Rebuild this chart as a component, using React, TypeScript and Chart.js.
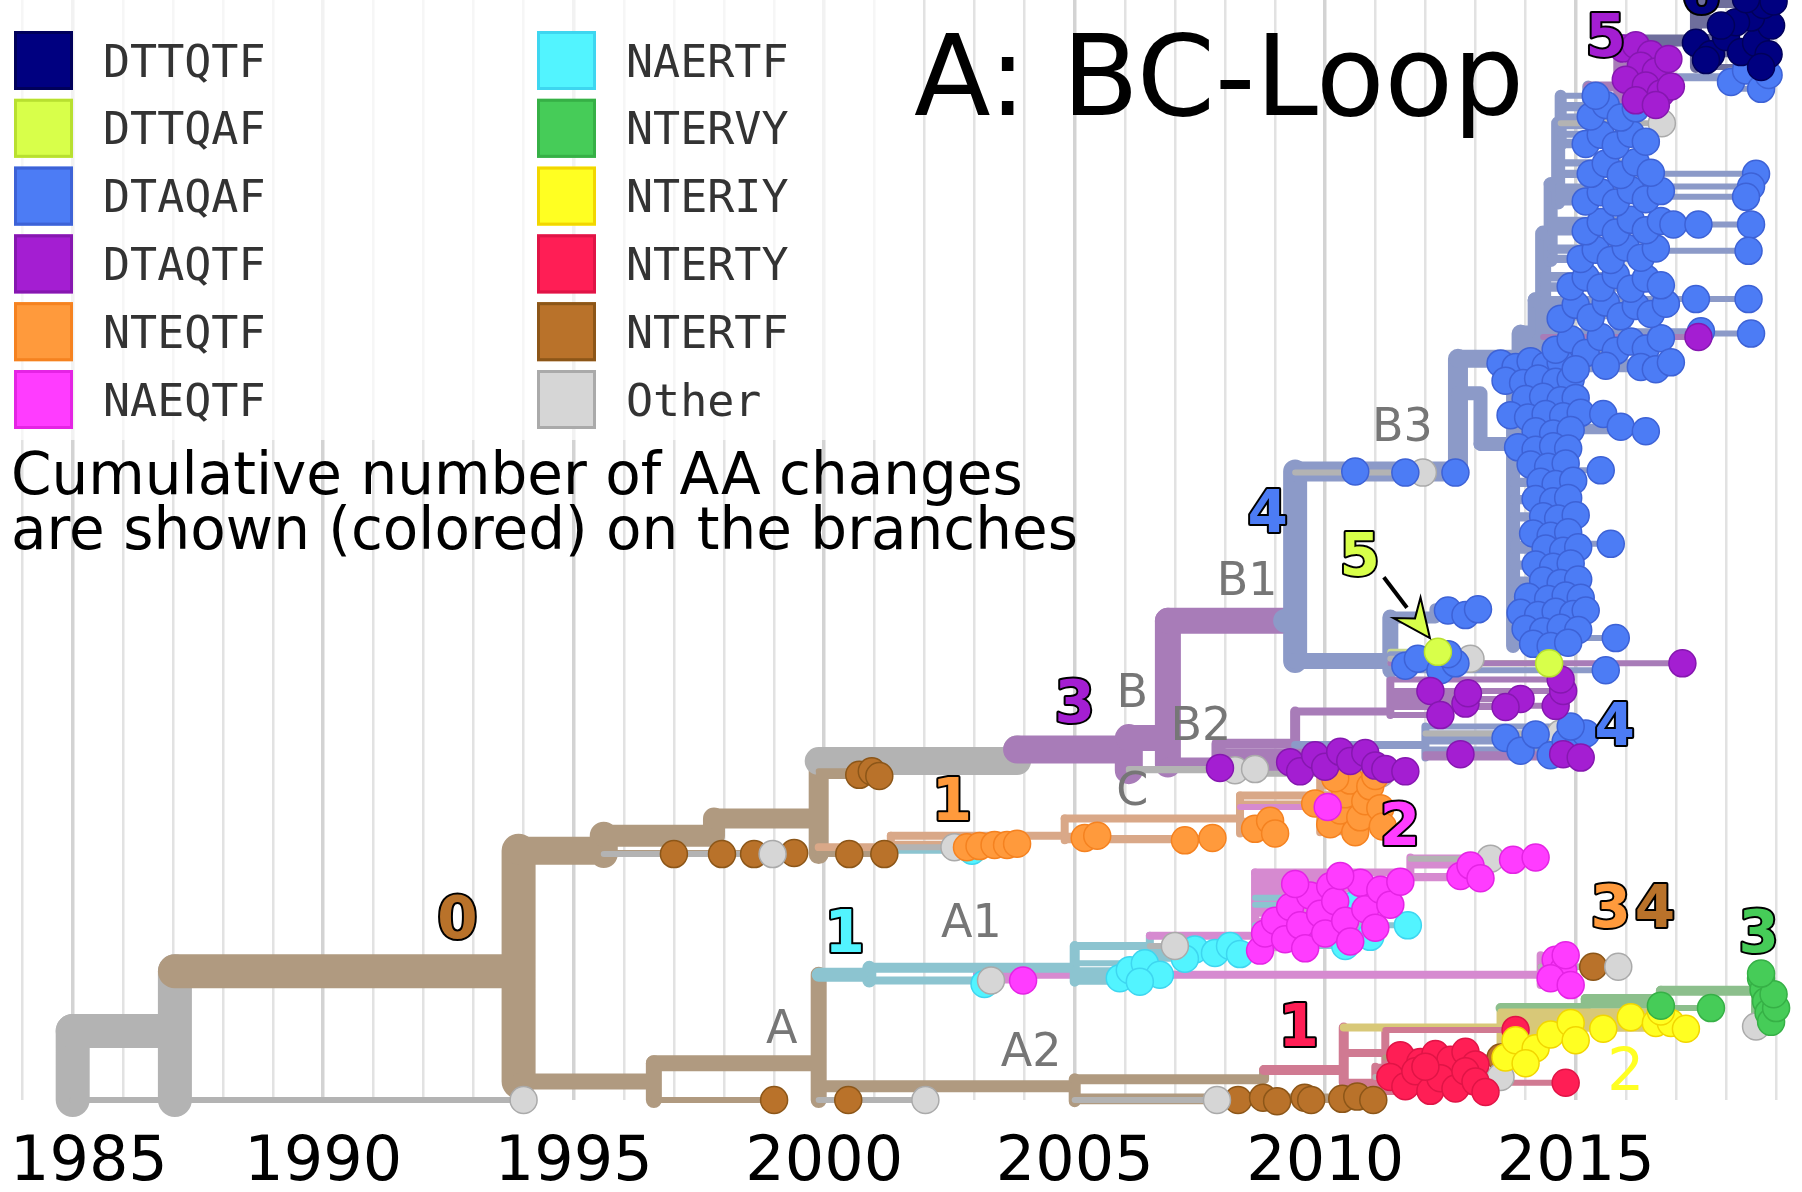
import React, { useEffect, useRef } from "react";
import { Chart, registerables } from "chart.js";
Chart.register(...registerables);

// ---------- categories / legend ----------
const legendLeft = ["DTTQTF", "DTTQAF", "DTAQAF", "DTAQTF", "NTEQTF", "NAEQTF"];
const legendRight = ["NAERTF", "NTERVY", "NTERIY", "NTERTY", "NTERTF", "Other"];
const yearLabels = [1985, 1990, 1995, 2000, 2005, 2010, 2015];

const pointFill: Record<string, string> = {
  DTTQTF: "#000080", DTTQAF: "#d8ff4a", DTAQAF: "#4c7cf5", DTAQTF: "#a41ed2",
  NTEQTF: "#ff9a3c", NAEQTF: "#ff3cff", NAERTF: "#52f4ff", NTERVY: "#46cc58",
  NTERIY: "#ffff22", NTERTY: "#ff1e55", NTERTF: "#b9722a", Other: "#d6d6d6",
};
const pointEdge: Record<string, string> = {
  DTTQTF: "#00005a", DTTQAF: "#b8e030", DTAQAF: "#3d62d6", DTAQTF: "#8617b0",
  NTEQTF: "#f58220", NAEQTF: "#e424e4", NAERTF: "#3ed6f0", NTERVY: "#36b046",
  NTERIY: "#f2d600", NTERTY: "#e01446", NTERTF: "#8c5618", Other: "#aaaaaa",
};
const branchTone: Record<string, string> = {
  DTTQTF: "#6e6e9c", DTTQAF: "#c8d890", DTAQAF: "#8c9ac8", DTAQTF: "#a87cb8",
  NTEQTF: "#d9a888", NAEQTF: "#d68ad0", NAERTF: "#8cc4d0", NTERVY: "#8cbf8c",
  NTERIY: "#d8c878", NTERTY: "#d07a92", NTERTF: "#b09a80", Other: "#b3b3b3",
};
const pointLayer = ["NAERTF", "NTERTF", "Other", "NTEQTF", "NAEQTF", "NTERTY", "NTERIY", "NTERVY", "DTAQAF", "DTAQTF", "DTTQAF", "DTTQTF"];

// ---------- tree: [id, parent, year, row, category, width] ----------
const treeNodes: [string, string | null, number, number, string, number][] = [
  ["R", null, 1985.0, 3.0, "Other", 34],
  ["N1987", "R", 1987.04, 6.0, "Other", 34],
  ["N1994", "N1987", 1993.9, 11.2, "NTERTF", 34],
  ["N1996", "N1994", 1996.6, 1.6, "NTERTF", 16],
  ["NA", "N1996", 1999.89, 3.2, "NTERTF", 16],
  ["NA2", "NA", 2005.0, 1.2, "NTERTF", 12],
  ["NA2b", "NA2", 2008.78, 1.8, "NTERTF", 10],
  ["NR0", "NA2b", 2010.37, 2.6, "NTERTY", 10],
  ["NR1", "NR0", 2011.2, 4.1, "NTERTY", 8],
  ["NR2", "NR0", 2011.0, 1.5, "NTERTY", 8],
  ["NY0", "NR0", 2013.5, 6.3, "NTERIY", 8],
  ["NG0", "NY0", 2015.2, 8.0, "NTERVY", 10],
  ["NG1", "NG0", 2016.7, 8.8, "NTERVY", 10],
  ["NG2", "NG1", 2018.6, 9.5, "NTERVY", 10],
  ["NA1", "NA", 2000.9, 10.9, "NAERTF", 14],
  ["NA1a", "NA1", 2003.05, 10.4, "NAERTF", 8],
  ["NMag", "NA1a", 2014.3, 10.9, "NAEQTF", 8],
  ["NA1b", "NA1", 2005.0, 11.5, "NAERTF", 10],
  ["NA1c", "NA1b", 2006.5, 13.4, "NAERTF", 8],
  ["NMc", "NA1c", 2008.6, 14.3, "NAEQTF", 8],
  ["NMd", "NMc", 2011.7, 19.8, "NAEQTF", 8],
  ["NU", "N1994", 1995.6, 21.7, "NTERTF", 28],
  ["NU2", "NU", 1997.8, 23.0, "NTERTF", 22],
  ["NU3", "NU2", 1999.89, 24.5, "NTERTF", 20],
  ["NO0", "NU3", 2001.33, 22.0, "NTEQTF", 8],
  ["NO1", "NO0", 2004.8, 23.0, "NTEQTF", 8],
  ["NO2", "NO1", 2008.3, 24.5, "NTEQTF", 8],
  ["NO3", "NO2", 2009.9, 26.5, "NTEQTF", 8],
  ["NGr", "NU3", 2003.85, 29.5, "Other", 28],
  ["NB0", "NGr", 2006.08, 30.5, "DTAQTF", 28],
  ["NB", "NB0", 2006.86, 31.5, "DTAQTF", 26],
  ["NB2", "NB", 2007.87, 29.2, "DTAQTF", 14],
  ["NB2a", "NB2", 2009.4, 31.0, "DTAQTF", 10],
  ["NB2b", "NB2a", 2012.0, 30.9, "DTAQAF", 8],
  ["NB2c", "NB2a", 2011.3, 33.8, "DTAQTF", 8],
  ["NB1", "NB", 2009.2, 41.7, "DTAQTF", 26],
  ["NB1x", "NB1", 2009.4, 41.7, "DTAQAF", 24],
  ["N5", "NB1x", 2011.3, 38.2, "DTAQAF", 16],
  ["N5b", "N5", 2012.2, 42.0, "DTAQAF", 12],
  ["NB3", "NB1x", 2012.65, 54.7, "DTAQAF", 20],
  ["NLa", "NB3", 2013.1, 61.5, "DTAQAF", 14],
  ["NLc", "NLa", 2013.75, 57.1, "DTAQAF", 14],
  ["S1", "NB3", 2013.9, 64.5, "DTAQAF", 18],
  ["S2", "S1", 2014.2, 66.7, "DTAQAF", 16],
  ["S3", "S2", 2014.35, 69.6, "DTAQAF", 16],
  ["S4", "S3", 2014.5, 75.4, "DTAQAF", 14],
  ["S5", "S4", 2014.65, 79.7, "DTAQAF", 14],
  ["S6", "S5", 2014.7, 85.0, "DTAQAF", 12],
  ["S7", "S6", 2015.25, 85.0, "DTAQAF", 12],
  ["P0", "S7", 2015.85, 88.2, "DTAQTF", 10],
  ["NV", "P0", 2017.4, 92.2, "DTTQTF", 12],
  ["NVb", "P0", 2018.07, 89.0, "DTAQAF", 8],
];

// ---------- tips: [parent, category, [year, row][]] ----------
const tipGroups: [string, string, [number, number][]][] = [
  ["R", "Other", [[1994.0, 0]]],
  ["N1987", "none", [[1987.04, 0]]],
  ["N1996", "NTERTF", [[1999.0, 0]]],
  ["NA", "NTERTF", [[2000.48, 0]]],
  ["NA", "Other", [[2002.02, 0]]],
  ["NA2", "Other", [[2007.84, 0]]],
  ["NA2", "NTERTF", [[2008.26, 0], [2008.76, 0.2], [2009.04, -0.1], [2009.59, 0.2], [2009.72, 0], [2010.34, 0.1], [2010.64, 0.3], [2010.96, 0]]],
  ["NR1", "NTERTY", [[2011.5, 3.9], [2011.9, 3.3], [2012.2, 4.0], [2012.5, 3.5], [2012.8, 4.2], [2013.0, 3.1], [2013.8, 6.1]]],
  ["NR1", "NTERTF", [[2013.5, 3.7]]],
  ["NR2", "NTERTY", [[2011.3, 2.0], [2011.6, 1.2], [2011.8, 2.5], [2012.1, 0.8], [2012.3, 1.9], [2012.6, 1.0], [2012.8, 2.5], [2013.0, 1.6], [2013.2, 0.7], [2012.0, 2.9], [2014.8, 1.5]]],
  ["NR2", "Other", [[2013.5, 2.0]]],
  ["NY0", "NTERIY", [[2013.6, 3.7], [2013.8, 5.2], [2014.2, 4.5], [2014.5, 5.7], [2014.9, 6.7], [2015.0, 5.2], [2014.0, 3.2], [2015.55, 6.2], [2016.1, 7.2], [2016.6, 6.7], [2016.9, 6.7], [2017.2, 6.2], [2016.7, 7.7]]],
  ["NG0", "NTERVY", [[2016.7, 8.2]]],
  ["NG1", "NTERVY", [[2017.7, 8.0]]],
  ["NG2", "NTERVY", [[2018.7, 10.6], [2018.75, 9.6], [2018.8, 8.6], [2018.85, 7.6], [2018.9, 6.8], [2019.0, 8.0], [2018.95, 9.2], [2018.7, 11.0]]],
  ["NG2", "Other", [[2018.6, 6.4]]],
  ["NA1a", "NAERTF", [[2003.2, 10.1]]],
  ["NA1a", "Other", [[2003.33, 10.4]]],
  ["NA1a", "NAEQTF", [[2003.97, 10.4]]],
  ["NMag", "NAEQTF", [[2014.6, 12.2], [2014.75, 11.3], [2014.5, 10.6], [2014.9, 10.0], [2014.8, 12.6]]],
  ["NMag", "NTERTF", [[2015.35, 11.6]]],
  ["NMag", "Other", [[2015.85, 11.6]]],
  ["NA1b", "NAERTF", [[2005.9, 10.6], [2006.1, 11.3], [2006.4, 11.9], [2006.7, 10.9], [2006.3, 10.3]]],
  ["NA1c", "Other", [[2007.0, 13.4]]],
  ["NA1c", "NAERTF", [[2007.4, 13.1], [2007.8, 12.8], [2008.1, 13.4], [2007.2, 12.3], [2008.3, 12.7]]],
  ["NMc", "NAERTF", [[2010.6, 17.0], [2011.2, 17.6], [2011.65, 15.2], [2010.4, 13.4], [2010.9, 14.2]]],
  ["NMc", "NAEQTF", [[2008.7, 13.0], [2008.8, 14.5], [2009.0, 15.6], [2009.2, 14.0], [2009.3, 16.8], [2009.5, 15.2], [2009.6, 13.2], [2009.7, 17.8], [2009.9, 16.2], [2010.0, 14.5], [2010.1, 18.6], [2010.2, 17.3], [2010.4, 15.6], [2010.5, 13.8], [2010.7, 18.9], [2010.8, 16.6], [2011.0, 15.0], [2011.1, 18.3], [2011.3, 17.0], [2011.5, 19.0], [2009.4, 18.8], [2010.3, 19.5]]],
  ["NMd", "NAEQTF", [[2012.7, 19.5], [2012.9, 20.4], [2013.1, 19.3], [2013.75, 20.9], [2014.2, 21.1]]],
  ["NMd", "Other", [[2013.3, 21.0]]],
  ["NU", "NTERTF", [[1997.0, 21.4], [1997.96, 21.4], [1998.6, 21.4], [1999.4, 21.5]]],
  ["NU", "Other", [[1998.97, 21.4]]],
  ["NU3", "NTERTF", [[2000.5, 21.4], [2001.2, 21.4], [2000.7, 28.3], [2000.95, 28.6], [2001.1, 28.2]]],
  ["NO0", "Other", [[2002.6, 22.0]]],
  ["NO0", "NAERTF", [[2002.95, 21.7]]],
  ["NO0", "NTEQTF", [[2002.85, 22.0], [2003.1, 22.1], [2003.4, 22.2], [2003.65, 22.2], [2003.85, 22.3]]],
  ["NO1", "NTEQTF", [[2005.2, 22.8], [2005.45, 23.0], [2007.2, 22.6], [2007.75, 22.8]]],
  ["NO2", "NTEQTF", [[2008.6, 23.6], [2008.9, 24.3], [2009.0, 23.2], [2009.8, 25.8]]],
  ["NO2", "NAEQTF", [[2010.05, 25.5]]],
  ["NO3", "NTEQTF", [[2010.1, 24.0], [2010.3, 25.2], [2010.4, 26.6], [2010.5, 27.8], [2010.6, 23.3], [2010.7, 24.6], [2010.8, 26.0], [2010.9, 27.3], [2011.0, 28.2], [2011.1, 25.4], [2011.15, 23.8], [2010.2, 28.0]]],
  ["NB0", "Other", [[2008.2, 28.7], [2008.6, 28.8]]],
  ["NB2", "DTAQTF", [[2007.9, 28.9], [2009.3, 29.4], [2009.5, 28.6], [2009.8, 30.0], [2010.0, 29.0], [2010.3, 30.3], [2010.5, 29.5], [2010.8, 30.2], [2011.0, 29.1], [2011.2, 28.8], [2011.6, 28.6]]],
  ["NB2", "Other", [[2011.1, 28.4]]],
  ["NB2b", "DTAQAF", [[2013.6, 31.5], [2013.9, 30.4], [2014.2, 31.8], [2014.5, 30.0], [2014.8, 31.2], [2015.0, 30.5], [2015.2, 31.9], [2014.9, 32.5]]],
  ["NB2b", "DTAQTF", [[2014.75, 30.1], [2015.1, 29.8], [2012.7, 30.1]]],
  ["NB2b", "Other", [[2014.7, 31.9]]],
  ["NB2c", "DTAQTF", [[2012.1, 35.6], [2012.8, 34.5], [2012.85, 35.4], [2013.9, 34.9], [2014.6, 34.3], [2014.75, 35.6], [2014.7, 36.6], [2013.6, 34.2], [2012.3, 33.5]]],
  ["NB1x", "DTAQAF", [[2010.6, 54.7], [2011.6, 54.6], [2012.6, 54.6]]],
  ["NB1x", "Other", [[2011.95, 54.6]]],
  ["N5", "DTAQAF", [[2011.6, 37.8], [2011.85, 38.4], [2012.3, 37.4], [2012.6, 38.0], [2012.45, 38.8], [2015.6, 37.4]]],
  ["N5", "Other", [[2012.9, 38.4]]],
  ["N5", "DTAQTF", [[2017.13, 38.0]]],
  ["N5", "DTTQAF", [[2012.25, 39.0], [2014.47, 38.0]]],
  ["N5b", "DTAQAF", [[2012.45, 42.6], [2012.8, 42.2], [2013.05, 42.7]]],
  ["NLc", "DTAQAF", [
    [2013.5, 64.1], [2013.8, 63.8], [2014.1, 64.3], [2014.4, 63.9], [2014.7, 64.2],
    [2013.6, 62.6], [2013.95, 62.4], [2014.25, 62.8], [2014.6, 62.5], [2014.9, 62.7],
    [2014.0, 61.0], [2014.35, 61.2], [2014.7, 60.9], [2015.0, 61.1],
    [2013.7, 59.6], [2014.05, 59.4], [2014.4, 59.7], [2014.75, 59.5], [2015.1, 59.8], [2015.55, 59.7],
    [2014.2, 58.2], [2014.55, 58.0], [2014.9, 58.3], [2015.9, 58.6], [2016.4, 58.2],
    [2013.85, 56.8], [2014.2, 56.6], [2014.55, 56.9], [2014.85, 56.7],
    [2014.1, 55.3], [2014.45, 55.1], [2014.8, 55.4], [2015.5, 54.8],
    [2014.3, 53.8], [2014.6, 53.6], [2014.95, 53.9],
    [2014.2, 52.3], [2014.55, 52.1], [2014.85, 52.4],
    [2014.35, 50.8], [2014.65, 50.6], [2015.0, 50.9],
    [2014.15, 49.3], [2014.5, 49.1], [2014.85, 49.4],
    [2014.4, 48.0], [2014.75, 47.8], [2015.05, 48.1], [2015.7, 48.4],
    [2014.2, 46.6], [2014.55, 46.4], [2014.9, 46.7],
    [2014.35, 45.2], [2014.7, 45.0], [2015.05, 45.3],
    [2014.05, 43.8], [2014.45, 43.6], [2014.8, 43.9], [2015.1, 43.7],
    [2013.9, 42.4], [2014.25, 42.2], [2014.6, 42.5], [2014.95, 42.3], [2015.2, 42.6],
    [2014.0, 41.0], [2014.35, 40.8], [2014.7, 41.1], [2015.05, 40.9],
    [2014.15, 39.7], [2014.5, 39.5], [2014.85, 39.8], [2015.8, 40.2]]],
  ["S2", "DTAQAF", [[2014.6, 65.3], [2014.9, 66.2], [2015.2, 65.0], [2015.5, 66.4], [2015.8, 65.2], [2016.1, 66.0], [2016.4, 65.4], [2016.7, 66.3], [2016.3, 63.8], [2016.6, 63.6], [2016.9, 64.2], [2015.0, 63.6], [2015.6, 63.9]]],
  ["S3", "DTAQAF", [[2014.7, 68.0], [2015.0, 69.2], [2015.3, 68.1], [2015.6, 69.4], [2015.9, 68.2], [2016.2, 69.1], [2016.5, 68.4], [2016.8, 69.3], [2014.9, 70.8], [2015.2, 71.6], [2015.5, 70.7], [2015.8, 71.8], [2016.1, 70.6], [2016.4, 71.5], [2016.7, 70.9], [2017.4, 69.7], [2018.45, 69.7], [2017.5, 66.9], [2018.5, 66.7]]],
  ["S3", "DTAQTF", [[2017.45, 66.4]]],
  ["S4", "DTAQAF", [[2015.1, 73.2], [2015.4, 74.0], [2015.7, 73.1], [2016.0, 74.2], [2016.3, 73.3], [2016.6, 74.1], [2015.2, 75.6], [2015.5, 76.4], [2015.8, 75.5], [2016.1, 76.6], [2016.4, 75.7], [2016.7, 76.5], [2016.95, 76.2], [2017.45, 76.2], [2018.5, 76.2], [2018.45, 73.9]]],
  ["S5", "DTAQAF", [[2015.2, 78.2], [2015.5, 79.0], [2015.8, 78.1], [2016.1, 79.2], [2016.4, 78.4], [2016.7, 79.1], [2015.3, 80.6], [2015.6, 81.5], [2015.9, 80.5], [2016.2, 81.6], [2016.5, 80.7], [2018.6, 80.6], [2018.5, 79.5], [2018.4, 78.6]]],
  ["S6", "DTAQAF", [[2015.2, 83.2], [2015.5, 84.0], [2015.8, 83.1], [2016.1, 84.1], [2016.4, 83.4], [2015.3, 85.6], [2015.6, 86.6], [2015.9, 85.5], [2016.2, 86.3], [2015.4, 87.4]]],
  ["S6", "Other", [[2016.72, 85.0]]],
  ["P0", "DTAQTF", [[2015.95, 91.5], [2016.2, 91.8], [2016.5, 91.0], [2016.3, 90.0], [2016.6, 89.5], [2016.0, 88.8], [2016.4, 88.3], [2016.7, 87.6], [2016.9, 88.2], [2016.2, 87.0], [2016.6, 86.6], [2016.85, 90.6]]],
  ["NVb", "DTAQAF", [[2018.1, 88.6], [2018.4, 89.6], [2018.7, 88.0], [2018.85, 89.2]]],
  ["NV", "DTTQTF", [[2017.4, 92.0], [2017.7, 91.0], [2018.0, 92.5], [2018.3, 91.2], [2018.6, 92.0], [2018.85, 91.0], [2018.9, 93.5], [2018.5, 94.2], [2018.2, 93.8], [2018.75, 95.3], [2017.9, 93.5], [2018.95, 95.6], [2018.4, 95.8], [2017.6, 90.5], [2018.7, 89.9]]],
];

// ---------- annotations ----------
const changeLabels: [string, number, number, string][] = [
  ["0", 1992.68, 15.4, "NTERTF"], ["1", 2000.41, 14.2, "NAERTF"], ["1", 2002.55, 25.7, "NTEQTF"],
  ["3", 2005.0, 34.2, "DTAQTF"], ["4", 2008.85, 50.7, "DTAQAF"], ["5", 2010.69, 47.0, "DTTQAF"],
  ["5", 2015.6, 92.2, "DTAQTF"], ["6", 2017.5, 95.9, "DTTQTF"], ["4", 2015.78, 32.2, "DTAQAF"],
  ["2", 2011.49, 23.5, "NAEQTF"], ["3", 2015.7, 16.4, "NTEQTF"], ["4", 2016.58, 16.4, "NTERTF"],
  ["3", 2018.65, 14.2, "NTERVY"], ["1", 2009.47, 6.0, "NTERTY"], ["2", 2016.0, 2.2, "NTERIY"],
];
const cladeLabels: [string, number, number][] = [
  ["B3", 2011.54, 58.4], ["B1", 2008.44, 45.0], ["B2", 2007.52, 32.4], ["B", 2006.15, 35.2],
  ["C", 2006.15, 26.7], ["A1", 2002.94, 15.2], ["A", 1999.15, 6.0], ["A2", 2004.13, 4.0],
];
const arrowFrom: [number, number] = [2011.17, 45.5];
const arrowTo: [number, number] = [2012.09, 40.2];

// ---------- build datasets ----------
function buildDatasets() {
  const byId = new Map(treeNodes.map((n) => [n[0], n]));
  const ext = new Map<string, [number, number]>();
  treeNodes.forEach((n) => ext.set(n[0], [n[3], n[3]]));
  const grow = (id: string, r: number) => {
    const e = ext.get(id)!;
    e[0] = Math.min(e[0], r);
    e[1] = Math.max(e[1], r);
  };
  treeNodes.forEach((n) => { if (n[1]) grow(n[1], n[3]); });
  tipGroups.forEach(([p, , pts]) => pts.forEach(([, r]) => grow(p, r)));

  const ds: any[] = [];
  const N = treeNodes.length;
  treeNodes.forEach((n, i) => {
    const [id, parent, year, row, cat, w] = n;
    const e = ext.get(id)!;
    const data: any[] = [];
    if (parent) data.push({ x: byId.get(parent)![2], y: row });
    data.push({ x: year, y: row }, { x: year, y: e[0] }, { x: year, y: e[1] });
    ds.push({
      data, showLine: true, borderColor: branchTone[cat], borderWidth: w, pointRadius: 0,
      borderCapStyle: "round", borderJoinStyle: "round", order: 1000 + (N - i), clip: false,
    });
  });

  const tipLines: Record<string, any[]> = {};
  const tipPoints: Record<string, any[]> = {};
  tipGroups.forEach(([p, cat, pts]) => {
    if (cat === "none") return;
    const px = byId.get(p)![2];
    pts.forEach(([yr, r]) => {
      if (yr > px) (tipLines[cat] ||= []).push({ x: px, y: r }, { x: yr, y: r }, { x: null, y: null });
      (tipPoints[cat] ||= []).push({ x: yr, y: r });
    });
  });
  Object.keys(tipLines).forEach((cat) => {
    ds.push({
      data: tipLines[cat], showLine: true, spanGaps: false, borderColor: branchTone[cat], borderWidth: 6,
      pointRadius: 0, borderCapStyle: "round", order: 500, clip: false,
    });
  });
  pointLayer.forEach((cat, i) => {
    if (!tipPoints[cat]) return;
    ds.push({
      data: tipPoints[cat], showLine: false, pointRadius: 13.5, pointBorderWidth: 1.5,
      pointBackgroundColor: pointFill[cat], pointBorderColor: pointEdge[cat], order: 50 - i, clip: false,
    });
  });
  return ds;
}

const FONT = '"DejaVu Sans", Verdana, sans-serif';

const decor = {
  id: "decor",
  beforeDatasetsDraw(chart: any) {
    const ctx = chart.ctx;
    ctx.save();
    ctx.fillStyle = "rgba(255,255,255,0.7)";
    ctx.fillRect(0, 0, 890, 440);
    ctx.restore();
  },
  afterDatasetsDraw(chart: any) {
    const ctx = chart.ctx;
    const X = (v: number) => chart.scales.x.getPixelForValue(v);
    const Y = (v: number) => chart.scales.y.getPixelForValue(v);
    ctx.save();
    ctx.textAlign = "center";
    ctx.textBaseline = "middle";
    ctx.font = `46px ${FONT}`;
    ctx.fillStyle = "#767676";
    cladeLabels.forEach(([t, yr, r]) => ctx.fillText(t, X(yr), Y(r)));

    // arrow
    const x0 = X(arrowFrom[0]), y0 = Y(arrowFrom[1]), x1 = X(arrowTo[0]), y1 = Y(arrowTo[1]);
    const ang = Math.atan2(y1 - y0, x1 - x0);
    const hl = 38, hw = 17;
    const bx = x1 - hl * Math.cos(ang), by = y1 - hl * Math.sin(ang);
    ctx.strokeStyle = "#000";
    ctx.lineWidth = 4;
    ctx.beginPath();
    ctx.moveTo(x0, y0);
    ctx.lineTo(bx, by);
    ctx.stroke();
    ctx.beginPath();
    ctx.moveTo(x1, y1);
    ctx.lineTo(bx + hw * Math.sin(ang), by - hw * Math.cos(ang));
    ctx.lineTo(bx + 0.35 * hl * Math.cos(ang), by + 0.35 * hl * Math.sin(ang));
    ctx.lineTo(bx - hw * Math.sin(ang), by + hw * Math.cos(ang));
    ctx.closePath();
    ctx.fillStyle = pointFill.DTTQAF;
    ctx.fill();
    ctx.lineWidth = 2;
    ctx.stroke();

    ctx.lineJoin = "round";
    changeLabels.forEach(([t, yr, r, cat]) => {
      const px = X(yr), py = Y(r);
      if (cat === "NTERIY") {
        ctx.font = `58px ${FONT}`;
      } else {
        ctx.font = `bold 58px ${FONT}`;
        ctx.lineWidth = 4;
        ctx.strokeStyle = "#000";
        ctx.strokeText(t, px, py);
      }
      ctx.fillStyle = pointFill[cat];
      ctx.fillText(t, px, py);
    });
    ctx.restore();
  },
  afterDraw(chart: any) {
    const ctx = chart.ctx;
    ctx.save();
    const drawCol = (items: string[], sx: number, tx: number) => {
      items.forEach((cat, i) => {
        const top = 31 + i * 67.8;
        ctx.fillStyle = pointFill[cat];
        ctx.fillRect(sx, top, 59, 59);
        ctx.strokeStyle = pointEdge[cat];
        ctx.lineWidth = 3;
        ctx.strokeRect(sx + 1.5, top + 1.5, 56, 56);
        ctx.fillStyle = "#333333";
        ctx.font = `45px "DejaVu Sans Mono", monospace`;
        ctx.textAlign = "left";
        ctx.textBaseline = "alphabetic";
        ctx.fillText(cat, tx, top + 29.5 + 16);
      });
    };
    drawCol(legendLeft, 14, 103);
    drawCol(legendRight, 537, 626);

    ctx.fillStyle = "#000";
    ctx.textAlign = "left";
    ctx.textBaseline = "alphabetic";
    ctx.font = `58px ${FONT}`;
    ctx.fillText("Cumulative number of AA changes", 11, 494);
    ctx.fillText("are shown (colored) on the branches", 11, 549);
    ctx.font = `112px ${FONT}`;
    ctx.fillText("A: BC-Loop", 914, 115);

    ctx.font = `62px ${FONT}`;
    const xs = chart.scales.x;
    yearLabels.forEach((yr) => {
      const w = ctx.measureText(String(yr)).width;
      const left = Math.max(xs.getPixelForValue(yr) - w / 2, 10);
      ctx.fillText(String(yr), left, 1180);
    });
    ctx.restore();
  },
};

export default function App() {
  const ref = useRef<HTMLCanvasElement>(null);
  useEffect(() => {
    document.body.style.margin = "0";
    document.body.style.overflow = "hidden";
    const chart = new Chart(ref.current!, {
      type: "scatter",
      data: { datasets: buildDatasets() },
      options: {
        responsive: false,
        animation: false,
        devicePixelRatio: 1,
        events: [],
        layout: { padding: 0, autoPadding: false },
        plugins: { legend: { display: false }, tooltip: { enabled: false }, title: { display: false } },
        scales: {
          x: {
            type: "linear", min: 1983.549, max: 2019.517,
            ticks: { display: false, stepSize: 1, includeBounds: false },
            grid: {
              drawTicks: false,
              color: (c: any) => (Math.round(c.tick?.value ?? 1) % 5 === 0 ? "#d3d3d3" : "#e2e2e2"),
              lineWidth: (c: any) => (Math.round(c.tick?.value ?? 1) % 5 === 0 ? 3.5 : 2.5),
            },
            border: { display: false },
            afterFit: (s: any) => { s.height = 92; },
          },
          y: { type: "linear", display: false, min: 0, max: 95.73 },
        },
      } as any,
      plugins: [decor as any],
    });
    return () => chart.destroy();
  }, []);
  return (
    <div style={{ width: 1802, height: 1192 }}>
      <canvas ref={ref} width={1802} height={1192} style={{ display: "block", width: 1802, height: 1192 }} />
    </div>
  );
}
